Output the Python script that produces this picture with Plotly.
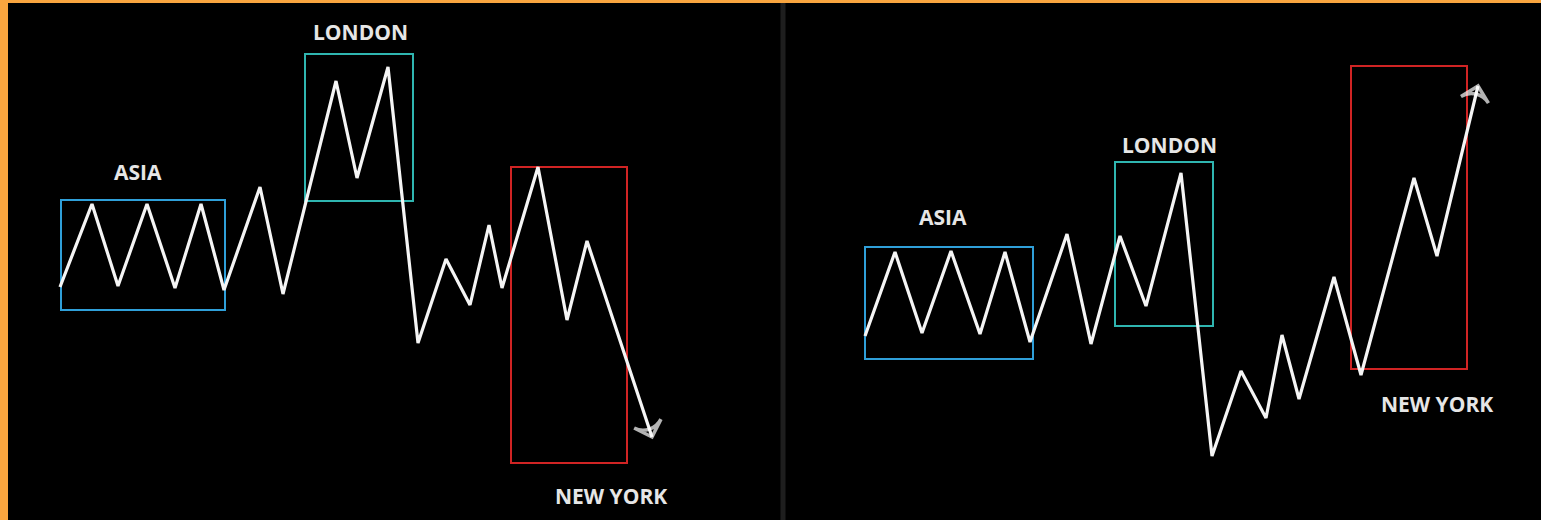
"""Asia / London / New York session sketch (two panels, dark theme)."""

import plotly.graph_objects as go

W, H = 1541, 520

# price paths in pixel space (x right, y down)
left_x = [60, 92, 118, 147, 175, 201, 224, 260, 283, 336, 357, 388, 418, 446, 470, 489, 502, 538, 567, 587, 652]
left_y = [287, 204, 286, 204, 288, 204, 290, 187, 294, 81, 178, 67, 343, 259, 305, 225, 288, 167, 320, 241, 437]

right_x = [865, 895, 922, 951, 980, 1005, 1030, 1067, 1091, 1120, 1146, 1181, 1212, 1241, 1266, 1282, 1299, 1334, 1361, 1414, 1437, 1478]
right_y = [336, 252, 333, 251, 334, 252, 342, 234, 344, 236, 306, 173, 456, 371, 418, 335, 399, 277, 375, 178, 256, 86]

# session boxes: name, x0, x1, y0, y1
session_names = ["ASIA", "LONDON", "NEW YORK", "ASIA", "LONDON", "NEW YORK"]
box_x0 = [61, 305, 511, 865, 1115, 1351]
box_x1 = [225, 413, 627, 1033, 1213, 1467]
box_y0 = [200, 54, 167, 247, 162, 66]
box_y1 = [310, 201, 463, 359, 326, 369]
label_x = [138, 360, 611, 943, 1169, 1437]
label_y = [172, 32, 496, 217, 145, 404]

COLORS = {"ASIA": "#2f9fd9", "LONDON": "#2fb5b0", "NEW YORK": "#d02424"}

fig = go.Figure()

for xs, ys in ((left_x, left_y), (right_x, right_y)):
    fig.add_trace(go.Scatter(
        x=xs, y=ys, mode="lines",
        line=dict(color="#f5f5f5", width=3.2),
        hoverinfo="skip", showlegend=False,
    ))
    # chevron at the end, pointing along the last leg
    fig.add_trace(go.Scatter(
        x=xs[-2:], y=ys[-2:], mode="markers",
        marker=dict(symbol=["circle", "arrow-wide-open"], size=[0, 20],
                    angleref="previous", color="#ffffff",
                    line=dict(color="#ffffff", width=3.5)),
        hoverinfo="skip", showlegend=False,
    ))

for name, x0, x1, y0, y1, lx, ly in zip(session_names, box_x0, box_x1, box_y0, box_y1, label_x, label_y):
    fig.add_shape(type="rect", x0=x0, x1=x1, y0=y0, y1=y1,
                  line=dict(color=COLORS[name], width=2), layer="below")
    fig.add_annotation(x=lx, y=ly, text=f"<b>{name}</b>", showarrow=False,
                       font=dict(family="Open Sans", size=21, color="#e6e6e6"))

# panel divider
fig.add_shape(type="line", x0=783, x1=783, y0=3, y1=H,
              line=dict(color="#1e1e1e", width=5), layer="below")

fig.update_xaxes(range=[8, W], visible=False, fixedrange=True)
fig.update_yaxes(range=[H, 3], visible=False, fixedrange=True)
fig.update_layout(
    width=W, height=H,
    paper_bgcolor="#f9a53f",
    plot_bgcolor="#000000",
    margin=dict(l=8, r=0, t=3, b=0),
    showlegend=False,
)

fig.write_html("out.html", config={"displayModeBar": False},
               post_script="document.body.style.margin='0';document.body.style.overflow='hidden';")
